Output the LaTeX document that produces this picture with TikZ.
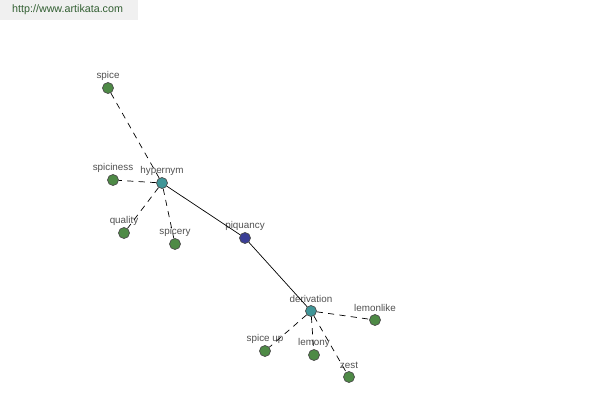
\documentclass[tikz,border=0pt]{standalone}
\usepackage{fontspec}
\setmainfont{Liberation Sans}
\usepackage{tikz}
\usetikzlibrary{positioning}

\definecolor{leafgreen}{RGB}{78,138,70}
\definecolor{hubteal}{RGB}{64,150,152}
\definecolor{rootblue}{RGB}{58,62,150}
\definecolor{labelgray}{RGB}{80,80,80}
\definecolor{urlgreen}{RGB}{50,95,50}

\begin{document}
\begin{tikzpicture}[
	x=0.02cm, y=-0.02cm,
	font=\fontsize{5.6}{6}\selectfont\color{labelgray},
	% Style cho các nút lá (xanh lá)
	leaf/.style={circle, draw=black!70, fill=leafgreen, minimum size=0.22cm, inner sep=0pt,
		label={[labelgray, inner sep=1pt]above:#1}},
	% Style cho nút quan hệ (hypernym, derivation)
	hub/.style={circle, draw=black!70, fill=hubteal, minimum size=0.22cm, inner sep=0pt,
		label={[labelgray, inner sep=1pt]above:#1}},
	% Style cho nút gốc
	root/.style={circle, draw=black!70, fill=rootblue, minimum size=0.22cm, inner sep=0pt,
		label={[labelgray, inner sep=1pt]above:#1}},
	% Style cho các cạnh
	rel/.style={draw=black, line width=0.4pt},
	weak/.style={draw=black, line width=0.4pt, dash pattern=on 3.5pt off 3pt}
	]
	
	\useasboundingbox (0,0) rectangle (600,400);
	
	% ================= Watermark =================
	\fill[black!6] (0,0) rectangle (138,20);
	\node[font=\fontsize{6.1}{7}\selectfont\color{urlgreen}, anchor=west] (url) at (6,10) {http://www.artikata.com};
	
	% ================= Nút gốc =================
	\node[root=piquancy] (piq) at (245,238) {};
	
	% ================= Nhánh hypernym =================
	\node[hub=hypernym] (hyp) at (162,183) {};
	\node[leaf=spice] (spice) at (108,88) {};
	\node[leaf=spiciness] (spic) at (113,180) {};
	\node[leaf=quality] (qual) at (124,233) {};
	\node[leaf=spicery] (spcy) at (175,244) {};
	
	% ================= Nhánh derivation =================
	\node[hub=derivation] (der) at (311,311) {};
	\node[leaf=lemonlike] (lml) at (375,320) {};
	\node[leaf=spice up] (spup) at (265,351) {};
	\node[leaf=lemony] (lmy) at (314,355) {};
	\node[leaf=zest] (zest) at (349,377) {};
	
	% ================= Cạnh =================
	\draw[rel] (hyp) -- (piq);
	\draw[rel] (piq) -- (der);
	
	\foreach \t in {spice,spic,qual,spcy}
		\draw[weak] (hyp) -- (\t);
	\foreach \t in {lml,spup,lmy,zest}
		\draw[weak] (der) -- (\t);
	
\end{tikzpicture}
\end{document}
